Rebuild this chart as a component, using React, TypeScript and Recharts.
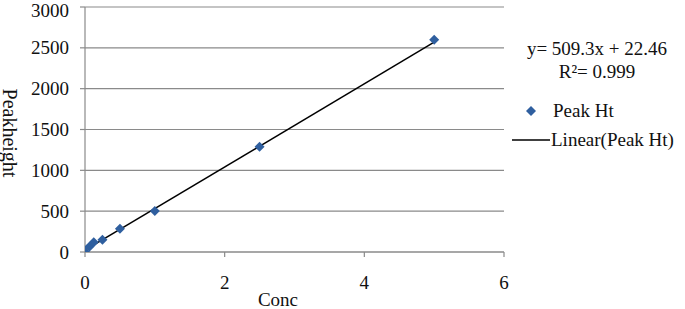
import React from 'react';
import { ComposedChart, Scatter, XAxis, YAxis, CartesianGrid, Label } from 'recharts';

const concValues = [0, 0.0625, 0.125, 0.25, 0.5, 1, 2.5, 5];
const peakHeights = [0, 65, 120, 150, 285, 502, 1290, 2600];
const trendX = [0, 5];
const trendY = [22.46, 2569];
const xTicks = [0, 2, 4, 6];
const yTicks = [0, 500, 1000, 1500, 2000, 2500, 3000];
const equationText = 'y= 509.3x + 22.46';
const r2Text = 'R\u00B2= 0.999';
const seriesName = 'Peak Ht';
const trendName = 'Linear(Peak Ht)';

const peakData = concValues.map((x, i) => ({ x, y: peakHeights[i] }));
const trendData = trendX.map((x, i) => ({ x, y: trendY[i] }));

const FONT = '"Liberation Serif", "Times New Roman", serif';
const MARKER = '#2F5F9F';
const GRID = '#8a8a8a';

const Diamond = (props: any) => {
  const { cx, cy } = props;
  if (cx == null || cy == null) return <g />;
  const r = 5;
  return (
    <polygon
      points={`${cx},${cy - r} ${cx + r},${cy} ${cx},${cy + r} ${cx - r},${cy}`}
      fill={MARKER}
    />
  );
};

const NoShape = () => <g />;

const YTick = (props: any) => {
  const { x, y, payload } = props;
  return (
    <text
      x={x}
      y={Math.max(y, 10)}
      textAnchor="end"
      dominantBaseline="central"
      style={{ fontFamily: FONT }}
      fontSize={19}
      fill="#111"
    >
      {payload.value}
    </text>
  );
};

const XTick = (props: any) => {
  const { x, y, payload } = props;
  return (
    <text x={x} y={y + 32} textAnchor="middle" style={{ fontFamily: FONT }} fontSize={19} fill="#111">
      {payload.value}
    </text>
  );
};

const LegendBox = () => (
  <svg
    width={180}
    height={130}
    style={{ position: 'absolute', left: 505, top: 30, overflow: 'visible' }}
  >
    <text x={92} y={25} textAnchor="middle" style={{ fontFamily: FONT }} fontSize={19} fill="#111">{equationText}</text>
    <text x={92} y={48} textAnchor="middle" style={{ fontFamily: FONT }} fontSize={19} fill="#111">{r2Text}</text>
    <polygon points="26,76 31,81 26,86 21,81" fill={MARKER} />
    <text x={48} y={87} style={{ fontFamily: FONT }} fontSize={19} fill="#111">{seriesName}</text>
    <line x1={7} y1={110} x2={45} y2={110} stroke="#000" strokeWidth={1.3} />
    <text x={46} y={116} style={{ fontFamily: FONT }} fontSize={19} fill="#111">{trendName}</text>
  </svg>
);

export default function App() {
  return (
    <div style={{ position: 'absolute', left: 0, top: 0, width: 685, height: 309, background: '#fff' }}>
      <ComposedChart width={685} height={309} margin={{ top: 7, right: 181, bottom: 0, left: 0 }}>
        <CartesianGrid horizontal vertical={false} stroke={GRID} strokeWidth={1.2} />
        <XAxis
          type="number"
          dataKey="x"
          domain={[0, 6]}
          ticks={xTicks}
          interval={0}
          height={57}
          axisLine={{ stroke: GRID, strokeWidth: 1.2 }}
          tickLine={{ stroke: GRID, strokeWidth: 1.2 }}
          tickSize={5}
          tickMargin={0}
          tick={<XTick />}
          allowDataOverflow
        >
          <Label
            content={() => (
              <text x={278} y={306} textAnchor="middle" style={{ fontFamily: FONT }} fontSize={19} fill="#111">Conc</text>
            )}
          />
        </XAxis>
        <YAxis
          type="number"
          dataKey="y"
          domain={[0, 3000]}
          ticks={yTicks}
          interval={0}
          width={85}
          axisLine={{ stroke: GRID, strokeWidth: 1.2 }}
          tickLine={{ stroke: GRID, strokeWidth: 1.2 }}
          tickSize={5}
          tickMargin={11}
          tick={<YTick />}
          allowDataOverflow
        >
          <Label
            content={() => (
              <text
                x={10}
                y={133}
                transform="rotate(90 10 133)"
                textAnchor="middle"
                dominantBaseline="central"
                style={{ fontFamily: FONT }}
                fontSize={20}
                fill="#111"
              >
                Peakheight
              </text>
            )}
          />
        </YAxis>
        <Scatter
          name={trendName}
          data={trendData}
          line={{ stroke: '#000', strokeWidth: 1.5 }}
          shape={<NoShape />}
          isAnimationActive={false}
        />
        <Scatter name={seriesName} data={peakData} shape={<Diamond />} isAnimationActive={false} />
      </ComposedChart>
      <LegendBox />
    </div>
  );
}
